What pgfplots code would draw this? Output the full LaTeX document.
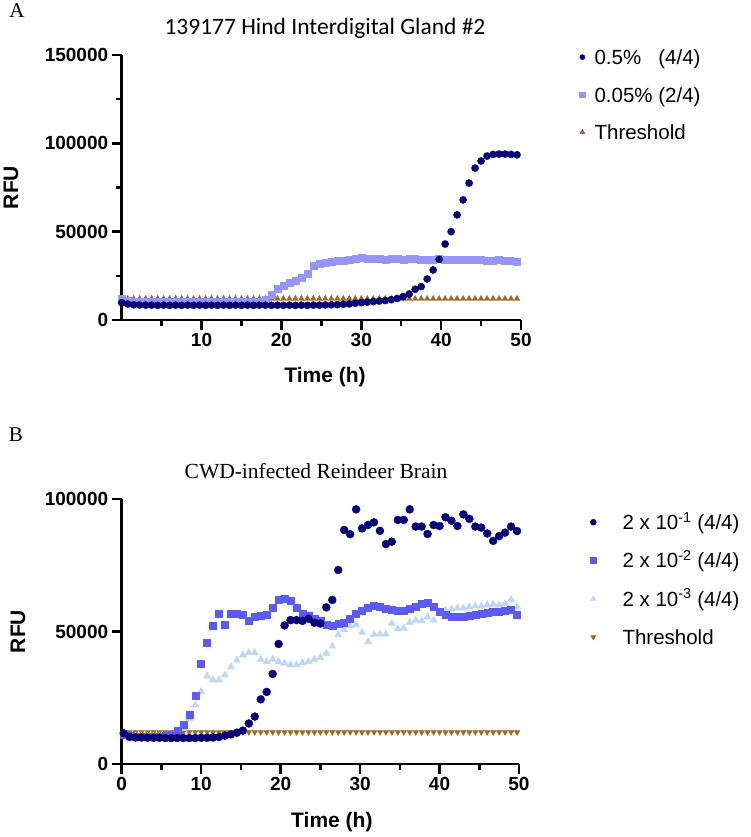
\documentclass[border=0pt]{standalone}
\usepackage{pgfplots}
\pgfplotsset{compat=1.18}
\usepackage{pgfplotstable}
\usepackage{fontspec}
\setmainfont{Liberation Sans}
\newfontfamily\carlito{Carlito}
\newfontfamily\seriffont{Liberation Serif}
\definecolor{navyd}{RGB}{5,5,120}
\definecolor{lavA}{RGB}{150,150,250}
\definecolor{blueB}{RGB}{92,92,245}
\definecolor{lightB}{RGB}{190,215,245}
\definecolor{brownT}{RGB}{160,105,40}

\pgfplotstableread{
t nav pur thr
0.00 9800 12000 12000
0.75 9000 11000 12000
1.50 8600 10300 12000
2.25 8500 10300 12000
3.00 8400 10200 12000
3.75 8400 10300 12000
4.50 8300 10200 12000
5.25 8400 10300 12000
6.00 8300 10200 12000
6.75 8400 10300 12000
7.50 8300 10200 12000
8.25 8400 10300 12000
9.00 8300 10200 12000
9.75 8400 10300 12000
10.50 8300 10200 12000
11.25 8400 10300 12000
12.00 8300 10200 12000
12.75 8400 10300 12000
13.50 8300 10200 12000
14.25 8400 10300 12000
15.00 8300 10200 12000
15.75 8400 10300 12000
16.50 8300 10200 12000
17.25 8400 10500 12000
18.00 8400 11500 12000
18.75 8300 14500 12000
19.50 8400 17500 12000
20.25 8300 19500 12000
21.00 8400 21000 12000
21.75 8300 22500 12000
22.50 8400 24000 12000
23.25 8300 26000 12000
24.00 8400 30500 12000
24.75 8400 32000 12000
25.50 8500 32500 12000
26.25 8600 33000 12000
27.00 8700 33300 12000
27.75 8900 33600 12000
28.50 9100 34000 12000
29.25 9500 34500 12000
30.00 9800 35000 12000
30.75 10100 34600 12000
31.50 10400 34800 12000
32.25 10700 34500 12000
33.00 11000 34400 12000
33.75 11500 34700 12000
34.50 12200 34600 12000
35.25 13200 34300 12000
36.00 14700 34500 12000
36.75 17400 34600 12000
37.50 18900 34400 12000
38.25 23200 34400 12000
39.00 28300 34300 12000
39.75 34300 34500 12000
40.50 43000 34200 12000
41.25 50000 34400 12000
42.00 59500 34100 12000
42.75 68000 34000 12000
43.50 77500 34200 12000
44.25 86000 33900 12000
45.00 90000 34000 12000
45.75 92800 33800 12000
46.50 93700 33700 12000
47.25 93900 33900 12000
48.00 93900 33500 12000
48.75 93700 33400 12000
49.50 93500 33000 12000
}\tabA

\pgfplotstableread{
t nav sq tri thr
0.25 11600 11000 11000 12000
1.00 10200 10500 10500 12000
1.75 10000 10400 10400 12000
2.50 10000 10400 10400 12000
3.25 9900 10400 10400 12000
4.00 9900 10400 10400 12000
4.75 9900 10400 10400 12000
5.50 9800 10500 10400 12000
6.25 9800 11200 10600 12000
7.00 9800 12600 11500 12000
7.75 9800 14700 13500 12000
8.50 9800 18500 17000 12000
9.25 9800 25700 22300 12000
10.00 9900 37700 27300 12000
10.75 9900 45800 33200 12000
11.50 10000 52100 31700 12000
12.25 10200 56600 31700 12000
13.00 10700 52500 33600 12000
13.75 11200 56900 36700 12000
14.50 11800 56900 39200 12000
15.25 12600 56200 41100 12000
16.00 15300 54100 42000 12000
16.75 17900 55600 42000 12000
17.50 24400 55800 39500 12000
18.25 27200 56200 38600 12000
19.00 34000 58800 39500 12000
19.75 45300 62000 38600 12000
20.50 52300 62500 38000 12000
21.25 54300 61800 37400 12000
22.00 54300 58800 37400 12000
22.75 54000 56900 38200 12000
23.50 54800 56000 38600 12000
24.25 53300 55000 39500 12000
25.00 53000 54000 40200 12000
25.75 59100 52500 41800 12000
26.50 61900 52300 44500 12000
27.25 73200 53000 48700 12000
28.00 88300 53300 50600 12000
28.75 86700 55000 52100 12000
29.50 96100 56900 52500 12000
30.25 88900 58000 49700 12000
31.00 90200 58800 46200 12000
31.75 91200 59600 48900 12000
32.50 88000 59200 49000 12000
33.25 83000 58600 49000 12000
34.00 83900 58200 53100 12000
34.75 92100 57900 51000 12000
35.50 92100 58000 51200 12000
36.25 96100 58500 53500 12000
37.00 89600 59200 54300 12000
37.75 89600 60500 54000 12000
38.50 86800 61000 55500 12000
39.25 90200 59500 54300 12000
40.00 89800 57500 56900 12000
40.75 93100 56200 58100 12000
41.50 91800 55600 58500 12000
42.25 89800 55600 58800 12000
43.00 94200 55600 58800 12000
43.75 92500 55800 59200 12000
44.50 89600 56200 59600 12000
45.25 89200 56600 59600 12000
46.00 87000 57000 60000 12000
46.75 84200 57300 60300 12000
47.50 86000 57500 60000 12000
48.25 87300 57800 60500 12000
49.00 89600 58100 62100 12000
49.75 87900 56300 59400 12000
}\tabB

\pgfplotsset{
  gp/.style={
    scale only axis, clip=false,
    axis x line=bottom, axis y line=left,
    axis line style={line width=2.5pt, -},
    tick style={line width=2.5pt, black},
    tick align=outside, major tick length=10pt, minor tick length=6pt,
    xmin=0, xmax=50, ymin=0,
    scaled y ticks=false, scaled x ticks=false,
    tick label style={font=\fontsize{19}{22}\selectfont\bfseries},
    label style={font=\fontsize{21}{24}\selectfont\bfseries},
    legend style={draw=none, fill=none, inner sep=0pt,
      font=\fontsize{20.5}{24}\selectfont,
      nodes={inner sep=0pt, text height=14.7pt, text depth=0pt}},
    legend cell align=left,
  },
  lgA/.style={legend image code/.code={\path (-4pt,0pt) (12pt,0pt); \draw[##1] plot coordinates {(0pt,0pt)};}},
  lgB/.style={legend image code/.code={\path (-4pt,0pt) (29pt,0pt); \draw[##1] plot coordinates {(0pt,0pt)};}},
}

\begin{document}
\begin{tikzpicture}
\useasboundingbox (0pt,0pt) rectangle (750pt,837pt);

\node[font={\seriffont\fontsize{21}{24}\selectfont}, anchor=base] at (17pt,819pt) {A};
\node[font={\carlito\fontsize{23.5}{27}\selectfont}, anchor=base] at (325pt,802pt) {139177 Hind Interdigital Gland \#2};
\node[font={\seriffont\fontsize{21}{24}\selectfont}, anchor=base] at (16pt,395pt) {B};
\node[font={\seriffont\fontsize{21.5}{25}\selectfont}, anchor=base] at (316pt,358pt) {CWD-infected Reindeer Brain};

\begin{axis}[gp, at={(121.7pt,517pt)}, anchor=south west, width=399.3pt, height=265pt,
  ymax=150000, ytick={0,50000,100000,150000}, yticklabels={0,50000,100000,150000},
  minor ytick={25000,75000,125000},
  xtick={10,20,30,40,50}, xticklabels={10,20,30,40,50}, minor xtick={5,15,25,35,45},
  xlabel={Time (h)}, ylabel={RFU},
  xlabel style={at={(axis description cs:0.509,-0.234)}, anchor=base},
  ylabel style={at={(axis description cs:-0.2772,0.5)}, anchor=center},
  legend style={at={(axis description cs:1.1427,1.0203)}, anchor=north west, row sep=22.8pt},
]
\addplot[only marks, mark=triangle*, mark size=3.4pt, brownT, forget plot] table[x=t, y=thr] {\tabA};
\addplot[only marks, mark=square*, mark size=3.5pt, lavA, forget plot] table[x=t, y=pur] {\tabA};
\addplot[only marks, mark=*, mark size=3.6pt, navyd, forget plot] table[x=t, y=nav] {\tabA};
\addlegendimage{only marks, mark=*, mark size=2.6pt, navyd, lgA}
\addlegendentry{0.5\%\phantom{0} (4/4)}
\addlegendimage{only marks, mark=square*, mark size=2.8pt, lavA, lgA}
\addlegendentry{0.05\% (2/4)}
\addlegendimage{only marks, mark=triangle*, mark size=3pt, brownT, lgA}
\addlegendentry{Threshold}
\end{axis}

\begin{axis}[gp, at={(121.7pt,73pt)}, anchor=south west, width=397.3pt, height=265pt,
  ymax=100000, ytick={0,50000,100000}, yticklabels={0,50000,100000},
  xtick={0,10,20,30,40,50}, xticklabels={0,10,20,30,40,50}, minor xtick={5,15,25,35,45},
  xlabel={Time (h)}, ylabel={RFU},
  xlabel style={at={(axis description cs:0.529,-0.239)}, anchor=base},
  ylabel style={at={(axis description cs:-0.261,0.5)}, anchor=center},
  legend style={at={(axis description cs:1.176,0.941)}, anchor=north west, row sep=23.6pt},
]
\addplot[only marks, mark=triangle*, mark options={rotate=180}, mark size=3.2pt, brownT, forget plot] table[x=t, y=thr] {\tabB};
\addplot[only marks, mark=triangle*, mark size=4.2pt, lightB, forget plot] table[x=t, y=tri] {\tabB};
\addplot[only marks, mark=square*, mark size=3.5pt, blueB, forget plot] table[x=t, y=sq] {\tabB};
\addplot[only marks, mark=*, mark size=4pt, navyd, forget plot] table[x=t, y=nav] {\tabB};
\addlegendimage{only marks, mark=*, mark size=3pt, navyd, lgB}
\addlegendentry{2 x 10\textsuperscript{-1} (4/4)}
\addlegendimage{only marks, mark=square*, mark size=3pt, blueB, lgB}
\addlegendentry{2 x 10\textsuperscript{-2} (4/4)}
\addlegendimage{only marks, mark=triangle*, mark size=3.3pt, lightB, lgB}
\addlegendentry{2 x 10\textsuperscript{-3} (4/4)}
\addlegendimage{only marks, mark=triangle*, mark options={rotate=180}, mark size=3pt, brownT, lgB}
\addlegendentry{Threshold}
\end{axis}
\end{tikzpicture}
\end{document}
